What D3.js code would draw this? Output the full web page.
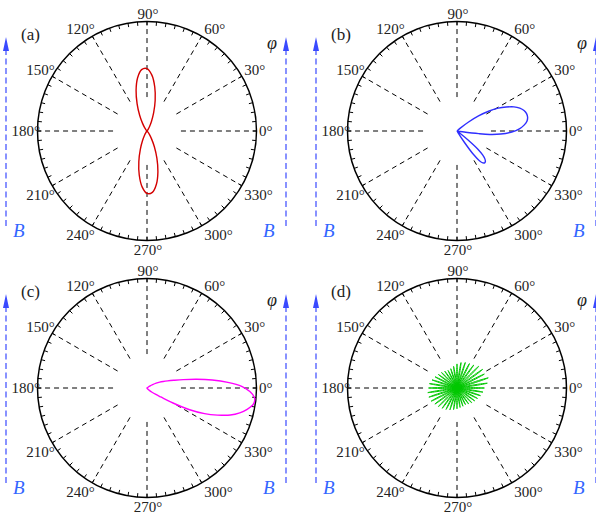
<!DOCTYPE html>
<html><head><meta charset="utf-8">
<script src="https://cdn.jsdelivr.net/npm/d3@7"></script>
<style>body{margin:0;background:#fff}svg{display:block}</style>
</head><body>
<svg id="chart" width="596" height="514"></svg>
<script>
// ---------- data ----------
const panelLabels = ["(a)", "(b)", "(c)", "(d)"];
const gridAngles = [0, 30, 60, 90, 120, 150, 180, 210, 240, 270, 300, 330];
const gridLabels = ["0°", "30°", "60°", "90°", "120°", "150°", "180°", "210°", "240°", "270°", "300°", "330°"];
const minorTickAngles = d3.range(0, 360, 5);
const fieldLabel = "B";
const angleSymbol = "φ";

// (a) red figure-eight (angle in degrees, radius relative to outer circle)
const thetaA = [0,5,10,15,20,25,30,35,40,45,50,55,60,65,70,75,80,85,90,95,100,105,110,115,120,125,130,135,140,145,150,155,160,165,170,175,
                180,185,190,195,200,205,210,215,220,225,230,235,240,245,250,255,260,265,270,275,280,285,290,295,300,305,310,315,320,325,330,335,340,345,350,355];
const rA = [0,0,0,0,0,0,0,0,0,0.002,0.006,0.018,0.045,0.096,0.178,0.288,0.408,0.512,0.570,0.563,0.494,0.385,0.264,0.159,0.083,0.038,0.014,0.005,0.001,0,0,0,0,0,0,0,
            0,0,0,0,0,0,0,0,0,0.002,0.006,0.018,0.045,0.096,0.178,0.288,0.408,0.512,0.570,0.563,0.494,0.385,0.264,0.159,0.083,0.038,0.014,0.005,0.001,0,0,0,0,0,0,0];

// (b) blue two-lobed pattern
const thetaB = [-70,-61,-59,-57,-55,-53,-51,-49,-47,-45,-43,-41,-39,-37,-35,-20,-9,-8,-7,-6,-4,-1,2,5,8,11,14,17,20,23,26,29,32,35,38,41,44,60,120,180,240];
const rB     = [0,0,0.02,0.12,0.26,0.34,0.375,0.385,0.38,0.36,0.32,0.25,0.13,0.03,0,0,0,0.05,0.2,0.3,0.4,0.5,0.57,0.615,0.645,0.657,0.655,0.64,0.61,0.565,0.5,0.43,0.34,0.24,0.13,0.04,0,0,0,0,0];

// (c) magenta single lobe
const thetaC = [-60,-55,-50,-45,-40,-36,-33,-30,-27,-24,-21,-18,-15,-12,-9,-7,-5,-2,1,4,7,10,13,16,19,22,25,28,31,34,37,45,90,180,270];
const rC     = [0,0.005,0.015,0.03,0.06,0.1,0.15,0.274,0.437,0.575,0.69,0.8,0.877,0.935,0.98,0.99,0.985,0.94,0.865,0.74,0.6,0.46,0.34,0.255,0.2,0.16,0.128,0.095,0.06,0.035,0.015,0,0,0,0];

// (d) green multi-petal pattern (petal direction, petal length)
const petalAngleD = [0,9,18,27,36,45,54,63,72,81,90,99,108,117,126,135,144,153,162,171,180,189,198,207,216,225,234,243,252,261,270,279,288,297,306,315,324,333,342,351];
const petalLenD   = [0.25,0.28,0.30,0.28,0.29,0.28,0.26,0.25,0.245,0.235,0.22,0.2,0.185,0.18,0.19,0.2,0.21,0.225,0.24,0.255,0.26,0.27,0.27,0.265,0.25,0.24,0.23,0.22,0.21,0.2,0.19,0.18,0.175,0.17,0.18,0.19,0.2,0.21,0.225,0.24];

// ---------- drawing ----------
const svg = d3.select("#chart");
const R = 109.5;
const rScale = d3.scaleLinear().domain([0, 1]).range([0, R]);
const gridInner = 0.31;
const centers = [[147, 131], [457, 131], [147, 388], [457, 388]];
const toRad = d => d * Math.PI / 180;
const serif = "Liberation Serif, serif";
const arrowBlue = "#3a4aff", textBlue = "#3366ff";

const lineR = d3.lineRadial()
  .angle(d => toRad(90 - d[0]))
  .radius(d => rScale(d[1]));

function drawFrame(g, i) {
  // radial dashed grid
  g.selectAll("line.grid").data(gridAngles).join("line")
    .attr("class", "grid")
    .attr("x1", a => rScale(gridInner) * Math.cos(toRad(a)))
    .attr("y1", a => -rScale(gridInner) * Math.sin(toRad(a)))
    .attr("x2", a => rScale(1) * Math.cos(toRad(a)))
    .attr("y2", a => -rScale(1) * Math.sin(toRad(a)))
    .attr("stroke", "#000").attr("stroke-width", 1)
    .attr("stroke-dasharray", "5,4");
  // outer circle
  g.append("circle").attr("r", rScale(1)).attr("fill", "none")
    .attr("stroke", "#000").attr("stroke-width", 1.5);
  // minor ticks
  g.selectAll("line.tick").data(minorTickAngles).join("line")
    .attr("class", "tick")
    .attr("x1", a => (R - 4) * Math.cos(toRad(a)))
    .attr("y1", a => -(R - 4) * Math.sin(toRad(a)))
    .attr("x2", a => R * Math.cos(toRad(a)))
    .attr("y2", a => -R * Math.sin(toRad(a)))
    .attr("stroke", "#000").attr("stroke-width", 1);
  // angle labels
  const capH = 10;
  g.selectAll("text.ang").data(gridAngles).join("text")
    .attr("class", "ang")
    .text((a, k) => gridLabels[k])
    .attr("font-family", serif).attr("font-size", 15).attr("fill", "#222")
    .attr("text-anchor", a => {
      const c = Math.cos(toRad(a));
      return c > 0.01 ? "start" : (c < -0.01 ? "end" : "middle");
    })
    .attr("x", a => {
      const c = Math.cos(toRad(a));
      return R * c + (Math.abs(c) > 0.01 ? 2.5 : 1);
    })
    .attr("y", a => {
      const s = Math.sin(toRad(a));
      const py = -R * s;
      if (s > 0.01) return py - 2.5 * s - 0.5;
      if (s < -0.01) return py + 4 + capH;
      return py + capH / 2;
    });
  // panel label
  g.append("text").text(panelLabels[i])
    .attr("x", -126).attr("y", -91)
    .attr("font-family", serif).attr("font-size", 17).attr("fill", "#222");
  // phi
  g.append("text").text(angleSymbol)
    .attr("x", 120).attr("y", -82)
    .attr("font-family", serif).attr("font-style", "italic")
    .attr("font-size", 18).attr("fill", "#222");
  // B arrows
  [-141, 139].forEach((ax, k) => {
    g.append("line")
      .attr("x1", ax).attr("x2", ax)
      .attr("y1", 95).attr("y2", -84)
      .attr("stroke", arrowBlue).attr("stroke-width", 1.2)
      .attr("stroke-dasharray", "6,3.5");
    g.append("path")
      .attr("d", `M${ax},-94 L${ax - 3},-80 L${ax + 3},-80 Z`)
      .attr("fill", arrowBlue);
    g.append("text").text(fieldLabel)
      .attr("x", k === 0 ? ax + 7 : ax - 23).attr("y", 106)
      .attr("font-family", serif).attr("font-style", "italic")
      .attr("font-size", 19).attr("fill", textBlue);
  });
}

const panels = centers.map((c, i) => {
  const g = svg.append("g").attr("transform", `translate(${c[0]},${c[1]})`);
  drawFrame(g, i);
  return g;
});

const closedCurve = d3.curveCatmullRomClosed.alpha(0.5);

panels[0].append("path")
  .datum(d3.zip(thetaA, rA))
  .attr("d", lineR.curve(closedCurve))
  .attr("fill", "none").attr("stroke", "#d40000").attr("stroke-width", 1.4);

panels[1].append("path")
  .datum(d3.zip(thetaB, rB))
  .attr("d", lineR.curve(closedCurve))
  .attr("fill", "none").attr("stroke", "#2f2fff").attr("stroke-width", 1.4);

panels[2].append("path")
  .datum(d3.zip(thetaC, rC))
  .attr("d", lineR.curve(closedCurve))
  .attr("fill", "none").attr("stroke", "#ff00ff").attr("stroke-width", 1.4);

// petal glyph profile (angular offset in degrees, fraction of petal length)
const petalProfile = [[-4.5, 0], [-1.6, 0.5], [-0.7, 0.85], [0, 1], [0.7, 0.85], [1.6, 0.5], [4.5, 0]];
const petalLine = d3.lineRadial()
  .angle(d => toRad(90 - d[0]))
  .radius(d => rScale(d[1]))
  .curve(d3.curveCatmullRom.alpha(0.5));
panels[3].selectAll("path.petal")
  .data(d3.zip(petalAngleD, petalLenD))
  .join("path")
  .attr("class", "petal")
  .attr("d", p => petalLine(petalProfile.map(q => [p[0] + q[0], p[1] * q[1]])))
  .attr("fill", "none").attr("stroke", "#00c800").attr("stroke-width", 1);
</script>
</body></html>
